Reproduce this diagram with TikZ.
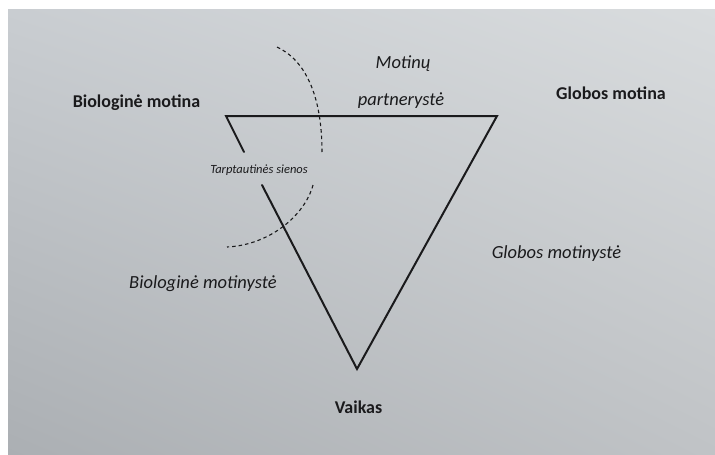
\documentclass[tikz,border=0pt]{standalone}
\usepackage{fontspec}
\setmainfont{Carlito}
\usetikzlibrary{shadings}
\definecolor{ink}{HTML}{1A1A1C}
\definecolor{bgul}{HTML}{C9CDD1}
\definecolor{bgur}{HTML}{D9DCDE}
\definecolor{bgll}{HTML}{ABAFB3}
\definecolor{bglr}{HTML}{C0C3C6}
\begin{document}
\begin{tikzpicture}[x=1pt,y=-1pt,
  edge/.style={draw=ink,line width=2pt,line cap=round,line join=miter},
  border/.style={draw=ink,line width=1.1pt,dash pattern=on 3.5pt off 3pt},
  bigbold/.style={inner sep=0pt,anchor=base,text=ink,font=\fontsize{18}{20}\selectfont\bfseries},
  bigital/.style={inner sep=0pt,anchor=base,text=ink,font=\fontsize{18.5}{20}\selectfont\itshape},
  smallital/.style={inner sep=0pt,anchor=base,text=ink,font=\fontsize{12.5}{14}\selectfont\itshape}]
\useasboundingbox (0,0) rectangle (715,455);
\fill[white] (0,0) rectangle (715,455);
\shade[upper left=bgul,upper right=bgur,lower left=bgll,lower right=bglr] (8,9) rectangle (715,455);
% vertices
\coordinate (bm) at (226,116);
\coordinate (gm) at (497,116);
\coordinate (vk) at (357,369);
\coordinate (g1) at (244,152);
\coordinate (g2) at (262,185);
% triangle
\draw[edge] (g1) -- (bm) -- (gm) -- (vk) -- (g2);
% dashed border
\coordinate (d1) at (277,47);
\coordinate (d2) at (322,152);
\coordinate (d3) at (313,185);
\coordinate (d4) at (227,247);
\draw[border] (d1) .. controls (305,60) and (322,95) .. (d2);
\draw[border] (d3) .. controls (305,215) and (270,245) .. (d4);
% labels
\node[bigbold] (lbm) at (136.5,107) {Biologinė motina};
\node[bigbold] (lgm) at (611,99) {Globos motina};
\node[bigbold] (lvk) at (358.5,413) {Vaikas};
\node[bigital] (lmp1) at (403,68) {Motinų};
\node[bigital] (lmp2) at (401,105) {partnerystė};
\node[bigital] (lgmt) at (556.5,258) {Globos motinystė};
\node[bigital] (lbmt) at (203,288) {Biologinė motinystė};
\node[smallital] (lts) at (259,173.5) {Tarptautinės sienos};
\end{tikzpicture}
\end{document}
